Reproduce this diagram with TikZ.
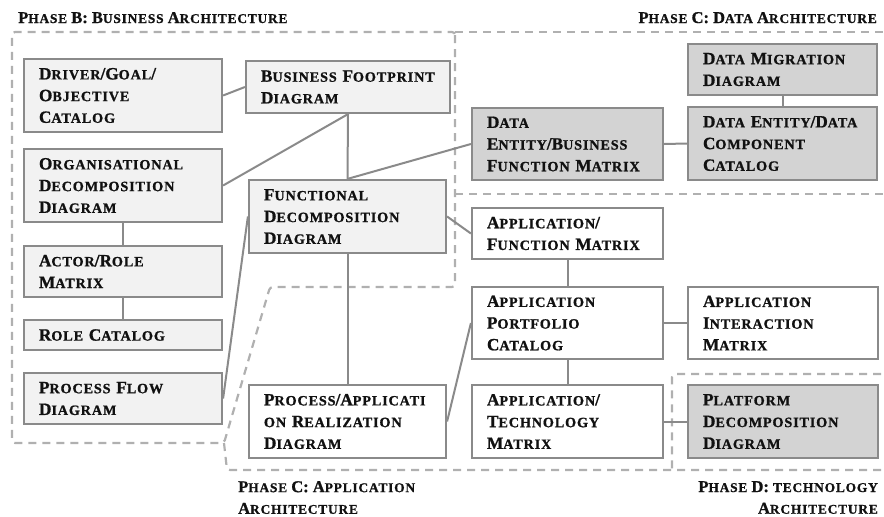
\documentclass[tikz,border=0pt]{standalone}
\usepackage{fontspec}
\setmainfont{Liberation Serif}[UprightFont={* Bold}, BoldFont={* Bold}, FakeBold=1.0, AutoFakeBold=0]
\newfontfamily\scf{Liberation Serif}[UprightFont={* Bold}, BoldFont={* Bold}, LetterSpace=6, FakeBold=1.0]
\newfontfamily\mainbf{Liberation Serif}[UprightFont={* Bold}, FakeBold=1.0]
\newcommand\SC[1]{{\scf\fontsize{14.2pt}{21.7pt}\selectfont #1}}
\newcommand\ST[1]{{\scf\fontsize{13.4pt}{21.7pt}\selectfont #1}}
\definecolor{boxline}{HTML}{8A8A8A}
\definecolor{lightfill}{HTML}{F2F2F2}
\definecolor{darkfill}{HTML}{D3D3D3}
\definecolor{dashcol}{HTML}{B0B0B0}
\definecolor{txt}{HTML}{111111}
\tikzset{
  bx/.style={draw=boxline, line width=2.2pt, inner xsep=15pt, inner ysep=0pt, align=left,
    font=\mainbf\fontsize{17.2pt}{21.7pt}\selectfont, text=txt},
  bfill/.style={bx, fill=lightfill},
  dfill/.style={bx, fill=darkfill},
  wfill/.style={bx, fill=white},
  conn/.style={draw=boxline, line width=2pt},
  region/.style={draw=dashcol, line width=2.2pt, dash pattern=on 8pt off 6pt, rounded corners=3pt},
  ttl/.style={inner sep=0pt, font=\mainbf\fontsize{16.5pt}{21.7pt}\selectfont, text=txt}
}
\begin{document}
\begin{tikzpicture}[x=1pt,y=-1pt]
\useasboundingbox (0,0) rectangle (884,517);
% dashed regions
\draw[region] (455,32) -- (455,287) -- (270,287) -- (224,443) -- (12,443) -- (12,32) -- cycle;
\draw[region] (455,32) -- (895,32);
\draw[region] (455,194) -- (895,194);
\draw[region] (224,443) -- (227,470) -- (895,470);
\draw[region] (895,374) -- (672,374) -- (672,470);
% titles
\node[ttl, anchor=base west] (tb) at (18,23) {P\ST{HASE} B: B\ST{USINESS} A\ST{RCHITECTURE}};
\node[ttl, anchor=base east] (tc) at (877,23) {P\ST{HASE} C: D\ST{ATA} A\ST{RCHITECTURE}};
\node[ttl, anchor=north west, align=left] (ta) at (238,481) {P\ST{HASE} C: A\ST{PPLICATION}\\A\ST{RCHITECTURE}};
\node[ttl, anchor=north east, align=right] (td) at (878,481) {P\ST{HASE} D: \ST{TECHNOLOGY}\\A\ST{RCHITECTURE}};
% Phase B boxes
\node[bfill, text width=168pt, minimum width=198pt, minimum height=73pt] (drv) at (123,95.5) {D\SC{RIVER}/G\SC{OAL}/\\O\SC{BJECTIVE}\\C\SC{ATALOG}};
\node[bfill, text width=174pt, minimum width=204pt, minimum height=52pt] (bfp) at (348,87) {B\SC{USINESS} F\SC{OOTPRINT}\\D\SC{IAGRAM}};
\node[bfill, text width=168pt, minimum width=198pt, minimum height=73pt] (org) at (123,185.5) {O\SC{RGANISATIONAL}\\D\SC{ECOMPOSITION}\\D\SC{IAGRAM}};
\node[bfill, text width=167pt, minimum width=197pt, minimum height=73pt] (fdd) at (347.5,216.5) {F\SC{UNCTIONAL}\\D\SC{ECOMPOSITION}\\D\SC{IAGRAM}};
\node[bfill, text width=168pt, minimum width=198pt, minimum height=51pt] (act) at (123,271.5) {A\SC{CTOR}/R\SC{OLE}\\M\SC{ATRIX}};
\node[bfill, text width=168pt, minimum width=198pt, minimum height=30pt] (rol) at (123,335) {R\SC{OLE} C\SC{ATALOG}};
\node[bfill, text width=168pt, minimum width=198pt, minimum height=51pt] (pfd) at (123,398.5) {P\SC{ROCESS} F\SC{LOW}\\D\SC{IAGRAM}};
% Phase C data
\node[dfill, text width=161pt, minimum width=191pt, minimum height=72pt] (debf) at (567.5,144) {D\SC{ATA}\\E\SC{NTITY}/B\SC{USINESS}\\F\SC{UNCTION} M\SC{ATRIX}};
\node[dfill, text width=159pt, minimum width=189pt, minimum height=51pt] (dmd) at (782.5,69.5) {D\SC{ATA} M\SC{IGRATION}\\D\SC{IAGRAM}};
\node[dfill, text width=159pt, minimum width=189pt, minimum height=73pt] (dedc) at (782.5,143.5) {D\SC{ATA} E\SC{NTITY}/D\SC{ATA}\\C\SC{OMPONENT}\\C\SC{ATALOG}};
% Phase C application
\node[wfill, text width=161pt, minimum width=191pt, minimum height=51pt] (afm) at (567.5,233.5) {A\SC{PPLICATION}/\\F\SC{UNCTION} M\SC{ATRIX}};
\node[wfill, text width=161pt, minimum width=191pt, minimum height=72pt] (apc) at (567.5,323) {A\SC{PPLICATION}\\P\SC{ORTFOLIO}\\C\SC{ATALOG}};
\node[wfill, text width=160pt, minimum width=190pt, minimum height=72pt] (aim) at (783,323) {A\SC{PPLICATION}\\I\SC{NTERACTION}\\M\SC{ATRIX}};
\node[wfill, text width=167pt, minimum width=197pt, minimum height=73pt] (par) at (347.5,421.5) {P\SC{ROCESS}/A\SC{PPLICATI}\\\SC{ON} R\SC{EALIZATION}\\D\SC{IAGRAM}};
\node[wfill, text width=161pt, minimum width=191pt, minimum height=73pt] (atm) at (567.5,421.5) {A\SC{PPLICATION}/\\T\SC{ECHNOLOGY}\\M\SC{ATRIX}};
% Phase D
\node[dfill, text width=160pt, minimum width=190pt, minimum height=73pt] (pdd) at (783,421.5) {P\SC{LATFORM}\\D\SC{ECOMPOSITION}\\D\SC{IAGRAM}};
% connectors
\draw[conn] (drv.east) -- (bfp.west);
\draw[conn] (bfp.south) -- (org.east);
\draw[conn] (bfp.south) -- (fdd.north);
\draw[conn] (fdd.north) -- (debf.west);
\draw[conn] (debf.east) -- (dedc.west);
\draw[conn] (dmd.south) -- (dedc.north);
\draw[conn] (org.south) -- (act.north);
\draw[conn] (act.south) -- (rol.north);
\draw[conn] (pfd.east) -- (fdd.west);
\draw[conn] (fdd.east) -- (afm.west);
\draw[conn] (fdd.south) -- (par.north);
\draw[conn] (afm.south) -- (apc.north);
\draw[conn] (apc.east) -- (aim.west);
\draw[conn] (apc.west) -- (par.east);
\draw[conn] (apc.south) -- (atm.north);
\draw[conn] (atm.east) -- (pdd.west);
\end{tikzpicture}
\end{document}
